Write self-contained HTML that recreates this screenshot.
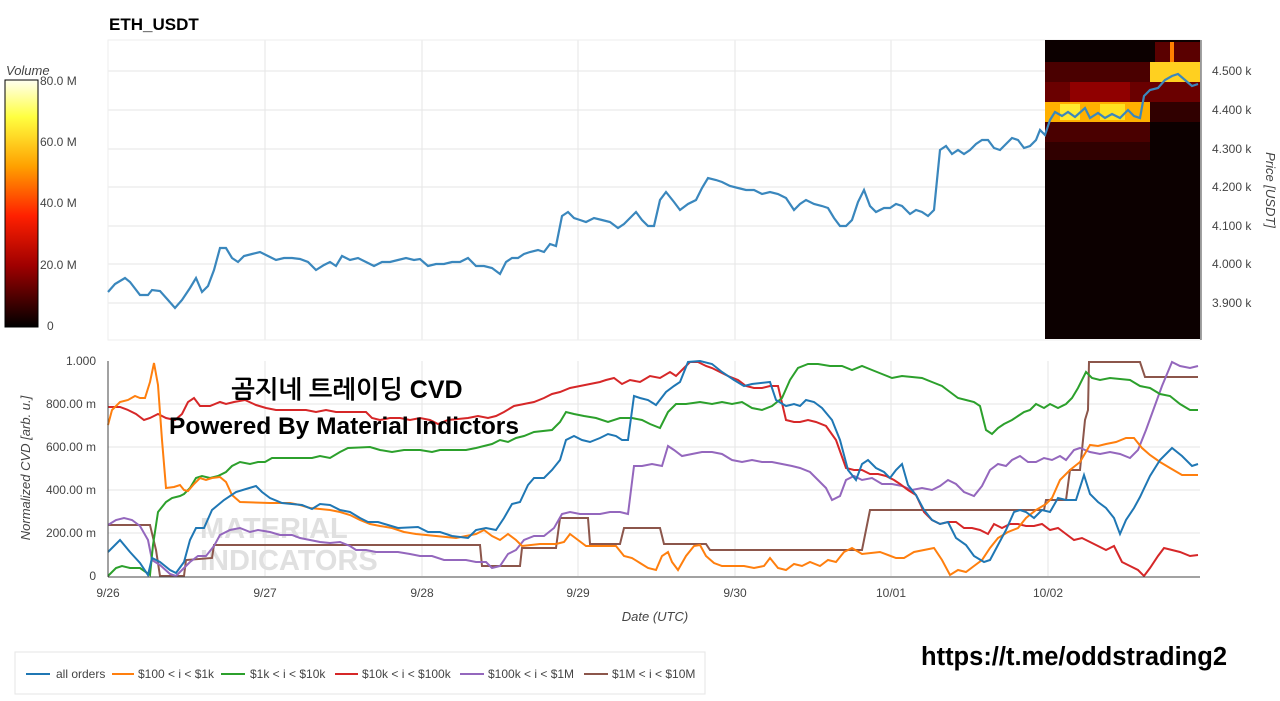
<!DOCTYPE html>
<html><head><meta charset="utf-8"><style>
body{margin:0;width:1280px;height:696px;background:#fff;overflow:hidden;font-family:"Liberation Sans",sans-serif}
</style></head><body>
<svg width="1280" height="696" xmlns="http://www.w3.org/2000/svg" font-family="Liberation Sans, sans-serif">
<defs>
<linearGradient id="cb" x1="0" y1="0" x2="0" y2="1">
<stop offset="0" stop-color="#fffff0"/><stop offset="0.15" stop-color="#ffff40"/><stop offset="0.35" stop-color="#ffa000"/><stop offset="0.55" stop-color="#ff2000"/><stop offset="0.75" stop-color="#a00000"/><stop offset="1" stop-color="#000000"/>
</linearGradient>
</defs>
<text x="109" y="30" font-size="17" font-weight="bold">ETH_USDT</text>
<g stroke="#e6e6e6" stroke-width="1">
<line x1="108" y1="71" x2="1200" y2="71"/><line x1="108" y1="110" x2="1200" y2="110"/><line x1="108" y1="149" x2="1200" y2="149"/><line x1="108" y1="187" x2="1200" y2="187"/><line x1="108" y1="226" x2="1200" y2="226"/><line x1="108" y1="264" x2="1200" y2="264"/><line x1="108" y1="303" x2="1200" y2="303"/>
<line x1="265" y1="40" x2="265" y2="340"/><line x1="422" y1="40" x2="422" y2="340"/><line x1="578" y1="40" x2="578" y2="340"/><line x1="735" y1="40" x2="735" y2="340"/><line x1="891" y1="40" x2="891" y2="340"/>
</g>
<rect x="108" y="40" width="1092" height="300" fill="none" stroke="#eee"/>
<rect x="1045" y="40" width="155" height="299" fill="#0c0000"/>
<rect x="1045" y="62" width="155" height="20" fill="#4a0000"/>
<rect x="1150" y="62" width="50" height="20" fill="#ffd020"/>
<rect x="1155" y="42" width="45" height="20" fill="#5a0000"/>
<rect x="1170" y="42" width="4" height="20" fill="#ff8000"/>
<rect x="1045" y="82" width="155" height="20" fill="#6a0000"/>
<rect x="1070" y="82" width="60" height="20" fill="#900000"/>
<rect x="1045" y="102" width="105" height="20" fill="#ffb000"/>
<rect x="1060" y="104" width="20" height="16" fill="#ffea30"/>
<rect x="1100" y="104" width="25" height="16" fill="#ffe020"/>
<rect x="1150" y="102" width="50" height="20" fill="#300000"/>
<rect x="1045" y="122" width="105" height="20" fill="#4a0000"/>
<rect x="1045" y="142" width="105" height="18" fill="#300000"/>
<polyline fill="none" stroke="#3a87bd" stroke-width="2.2" points="108,292 115,284 125,278 130,282 140,295 148,295 152,290 160,291 168,300 175,308 182,300 190,288 196,278 202,292 208,286 214,270 220,248 226,248 232,258 238,262 244,256 252,254 260,252 268,256 276,260 284,258 292,258 300,259 308,262 316,270 324,265 330,262 336,266 342,256 350,260 358,258 366,262 374,266 382,262 390,262 398,260 406,258 414,260 420,259 428,266 436,264 444,264 452,262 460,262 468,258 476,266 484,266 492,268 500,274 506,262 512,258 518,258 524,254 530,252 538,250 544,252 550,244 556,246 562,216 568,212 574,218 580,220 586,222 594,218 602,220 610,222 618,228 624,224 630,218 636,212 642,220 648,226 654,226 660,200 666,192 674,202 680,210 688,204 696,200 702,188 708,178 716,180 722,182 730,186 738,188 746,190 754,190 762,194 770,192 778,194 786,198 794,210 800,204 806,200 814,204 822,206 828,208 834,218 840,226 846,226 852,220 858,202 864,190 870,206 876,212 884,208 890,208 896,204 902,206 910,214 916,210 922,212 928,216 934,210 940,150 946,146 952,154 958,150 964,154 970,150 976,144 982,140 988,140 994,148 1000,150 1006,144 1012,138 1018,140 1024,148 1030,146 1036,140 1040,130 1045,135 1050,120 1055,112 1062,116 1068,112 1075,117 1085,108 1090,118 1098,113 1105,118 1112,114 1120,118 1128,110 1134,116 1140,118 1144,96 1150,90 1158,88 1165,80 1172,76 1178,74 1185,80 1192,86 1198,84"/>
<line x1="1201" y1="40" x2="1201" y2="340" stroke="#444"/>
<g font-size="12" fill="#444">
<text x="1212" y="75">4.500 k</text><text x="1212" y="114">4.400 k</text><text x="1212" y="153">4.300 k</text><text x="1212" y="191">4.200 k</text><text x="1212" y="230">4.100 k</text><text x="1212" y="268">4.000 k</text><text x="1212" y="307">3.900 k</text>
</g>
<text transform="translate(1266,190) rotate(90)" text-anchor="middle" font-size="13" font-style="italic" fill="#444">Price [USDT]</text>
<text x="6" y="75" font-size="13" font-style="italic" fill="#444">Volume</text>
<rect x="5" y="80" width="33" height="247" fill="url(#cb)" stroke="#000"/>
<g font-size="12" fill="#444"><text x="40" y="85">80.0 M</text><text x="40" y="146">60.0 M</text><text x="40" y="207">40.0 M</text><text x="40" y="269">20.0 M</text><text x="47" y="330">0</text></g>
<g stroke="#e6e6e6">
<line x1="108" y1="404" x2="1200" y2="404"/><line x1="108" y1="447" x2="1200" y2="447"/><line x1="108" y1="490" x2="1200" y2="490"/><line x1="108" y1="533" x2="1200" y2="533"/>
<line x1="265" y1="361" x2="265" y2="576"/><line x1="422" y1="361" x2="422" y2="576"/><line x1="578" y1="361" x2="578" y2="576"/><line x1="735" y1="361" x2="735" y2="576"/><line x1="891" y1="361" x2="891" y2="576"/><line x1="1048" y1="361" x2="1048" y2="576"/>
</g>
<text x="200" y="538" font-size="29" font-weight="bold" fill="#e0e0e0">MATERIAL</text>
<text x="200" y="570" font-size="29" font-weight="bold" fill="#e0e0e0">INDICATORS</text>
<g fill="none" stroke-width="2">
<polyline stroke="#8c564b" points="108,525 150,525 156,550 160,576 184,576 186,560 212,558 214,545 480,545 482,566 520,566 522,548 556,548 560,518 588,518 590,544 620,544 624,528 660,528 664,544 706,544 710,550 862,550 870,510 1044,510 1046,500 1066,500 1070,470 1080,470 1085,420 1088,410 1089,362 1140,362 1145,377 1198,377"/>
<polyline stroke="#9467bd" points="108,525 116,520 124,518 132,520 140,526 148,540 152,560 160,565 170,574 176,576 182,570 190,562 198,556 206,556 214,546 220,535 230,530 240,528 250,532 258,530 270,532 280,535 292,535 300,538 310,540 320,542 330,543 340,542 350,546 356,550 366,550 376,552 386,552 398,552 410,554 420,556 432,556 444,560 456,560 466,560 476,562 486,562 492,568 500,566 508,554 516,550 524,540 534,536 544,536 554,528 562,514 570,512 580,514 590,514 600,514 610,512 620,512 628,514 634,466 642,466 652,464 662,466 668,446 674,450 682,456 692,454 702,452 712,452 722,454 732,460 742,462 752,460 762,462 772,462 782,464 792,466 800,468 810,472 818,480 826,488 832,500 840,496 846,480 854,476 862,480 872,478 882,484 892,484 902,486 912,490 922,488 932,490 940,486 948,480 956,484 964,492 974,496 982,486 990,470 998,464 1006,466 1012,460 1020,456 1028,462 1036,462 1044,458 1052,460 1060,456 1066,460 1074,450 1080,448 1090,452 1100,454 1110,452 1120,454 1130,458 1138,450 1146,430 1154,408 1162,386 1172,362 1180,366 1190,368 1198,366"/>
<polyline stroke="#d62728" points="108,407 120,407 128,410 136,414 144,420 150,418 158,414 166,418 175,420 182,414 188,402 194,398 200,406 210,406 220,402 226,404 234,402 245,400 256,405 266,408 276,410 286,410 306,410 316,412 326,410 336,412 366,412 372,418 380,420 390,418 400,418 410,420 420,418 430,420 438,424 448,420 468,418 478,416 488,418 496,416 504,412 514,406 524,404 534,402 544,398 552,394 560,392 570,388 580,386 590,384 600,382 606,380 614,378 622,384 630,380 640,382 650,376 660,378 670,372 676,376 684,368 690,362 698,362 706,366 712,368 720,372 728,376 738,380 746,386 754,388 762,388 770,386 778,386 786,420 794,422 800,422 808,420 816,422 826,426 836,440 846,468 854,470 862,470 870,474 878,474 886,476 894,480 900,484 908,490 916,495 924,512 932,520 940,524 948,522 956,522 964,528 972,528 980,530 988,534 994,524 1002,528 1010,524 1018,524 1026,526 1034,526 1042,524 1050,530 1058,528 1066,534 1074,540 1082,538 1090,542 1098,546 1106,550 1114,546 1122,562 1130,566 1138,570 1144,576 1150,568 1158,556 1164,548 1172,550 1180,552 1190,556 1198,555"/>
<polyline stroke="#2ca02c" points="108,576 116,568 122,566 130,568 140,568 150,575 153,545 158,512 166,502 172,498 180,496 184,494 190,488 196,478 202,476 210,478 218,476 226,472 232,466 240,462 250,464 258,462 265,462 272,458 312,458 320,456 330,458 340,452 348,448 370,447 380,450 392,452 404,450 420,450 432,452 440,450 466,450 476,448 484,446 492,444 500,440 508,442 516,438 524,436 534,432 552,430 560,422 566,412 574,414 584,416 596,418 608,422 620,418 632,418 642,420 650,424 660,428 668,412 676,404 686,404 700,402 712,404 722,402 732,404 742,402 752,408 762,410 772,406 782,398 790,380 798,368 808,364 818,364 830,366 842,366 852,370 862,366 872,370 882,374 892,378 902,376 922,378 932,382 942,386 950,392 958,398 966,400 974,402 980,406 986,430 992,434 998,428 1004,424 1012,420 1018,416 1024,412 1030,410 1036,404 1044,408 1050,404 1058,408 1066,404 1072,398 1078,388 1086,372 1092,378 1100,380 1110,378 1130,380 1140,386 1150,388 1160,394 1170,396 1180,404 1190,410 1198,410"/>
<polyline stroke="#ff7f0e" points="108,425 112,410 120,402 128,400 135,396 140,398 145,398 150,382 154,363 158,385 162,440 166,488 174,487 180,485 184,490 188,491 194,484 200,478 206,480 212,478 220,477 226,482 232,495 240,502 270,503 290,503 300,505 310,508 330,510 340,512 350,515 360,520 370,524 380,526 392,528 404,532 416,534 436,536 456,538 466,536 476,534 484,530 492,536 500,540 508,534 516,540 522,546 540,544 556,544 564,542 570,534 578,540 586,546 616,546 624,556 632,558 640,563 648,568 656,570 662,556 668,552 672,562 678,570 686,556 694,546 700,545 706,556 714,563 722,566 744,566 754,568 764,566 770,558 778,568 786,570 794,564 802,566 810,562 820,566 828,560 836,562 844,552 852,548 862,554 880,552 896,558 904,558 914,552 934,548 942,560 950,575 958,570 966,572 974,566 982,560 990,548 998,538 1008,532 1018,528 1026,518 1036,510 1046,504 1052,498 1060,480 1070,470 1080,462 1090,445 1098,446 1106,444 1116,442 1126,438 1134,438 1142,448 1150,455 1160,462 1170,468 1182,475 1198,475"/>
<polyline stroke="#1f77b4" points="108,552 120,540 130,552 140,563 148,575 152,558 160,562 170,570 176,573 184,562 190,540 196,528 204,528 212,510 224,500 236,492 246,489 256,486 262,492 270,498 282,503 302,505 312,509 320,504 330,505 340,510 350,512 360,518 368,522 378,522 388,525 398,528 418,527 428,532 440,532 452,536 468,538 476,530 486,528 496,530 504,518 512,504 520,502 528,485 534,478 544,478 552,470 560,460 566,440 574,436 582,440 590,442 600,438 608,434 616,436 622,440 628,440 634,396 640,398 648,400 656,405 666,392 674,386 680,382 688,362 700,361 712,364 722,372 734,380 744,386 752,384 770,382 776,400 786,406 794,404 800,406 806,400 814,402 822,408 832,420 840,440 848,470 856,480 862,464 868,460 876,468 884,472 890,478 896,470 902,464 908,485 916,495 924,510 932,520 940,524 948,522 956,538 966,545 974,556 984,562 990,560 998,545 1006,530 1014,512 1020,510 1026,512 1034,518 1042,510 1050,512 1058,498 1066,500 1076,500 1084,475 1090,494 1098,502 1106,508 1114,518 1120,534 1126,520 1134,508 1140,497 1150,476 1160,460 1172,448 1182,456 1192,466 1198,464"/>
</g>
<line x1="108" y1="361" x2="108" y2="577" stroke="#444"/>
<line x1="108" y1="577" x2="1200" y2="577" stroke="#444"/>
<g font-size="12" fill="#444" text-anchor="end">
<text x="96" y="365">1.000</text><text x="96" y="408">800.00 m</text><text x="96" y="451">600.00 m</text><text x="96" y="494">400.00 m</text><text x="96" y="537">200.00 m</text><text x="96" y="580">0</text>
</g>
<g font-size="12" fill="#444" text-anchor="middle">
<text x="108" y="597">9/26</text><text x="265" y="597">9/27</text><text x="422" y="597">9/28</text><text x="578" y="597">9/29</text><text x="735" y="597">9/30</text><text x="891" y="597">10/01</text><text x="1048" y="597">10/02</text>
</g>
<text x="655" y="621" text-anchor="middle" font-size="13" font-style="italic" fill="#444">Date (UTC)</text>
<text transform="translate(30,468) rotate(-90)" text-anchor="middle" font-size="13" font-style="italic" fill="#444">Normalized CVD [arb. u.]</text>
<text x="347" y="398" text-anchor="middle" font-size="25" font-weight="bold" font-family="Liberation Sans, NanumGothic, Noto Sans CJK KR, sans-serif">곰지네 트레이딩 CVD</text>
<text x="344" y="434" text-anchor="middle" font-size="24.5" font-weight="bold">Powered By Material Indictors</text>
<rect x="15" y="652" width="690" height="42" fill="#fff" stroke="#e5e5e5"/>
<g font-size="12" fill="#444">
<line x1="26" y1="674" x2="50" y2="674" stroke="#1f77b4" stroke-width="2"/><text x="56" y="678">all orders</text>
<line x1="112" y1="674" x2="134" y2="674" stroke="#ff7f0e" stroke-width="2"/><text x="138" y="678">$100 &lt; i &lt; $1k</text>
<line x1="221" y1="674" x2="245" y2="674" stroke="#2ca02c" stroke-width="2"/><text x="250" y="678">$1k &lt; i &lt; $10k</text>
<line x1="335" y1="674" x2="358" y2="674" stroke="#d62728" stroke-width="2"/><text x="362" y="678">$10k &lt; i &lt; $100k</text>
<line x1="460" y1="674" x2="484" y2="674" stroke="#9467bd" stroke-width="2"/><text x="488" y="678">$100k &lt; i &lt; $1M</text>
<line x1="584" y1="674" x2="608" y2="674" stroke="#8c564b" stroke-width="2"/><text x="612" y="678">$1M &lt; i &lt; $10M</text>
</g>
<text x="921" y="665" font-size="25.5" font-weight="bold">https://t.me/oddstrading2</text>
</svg>
</body></html>
